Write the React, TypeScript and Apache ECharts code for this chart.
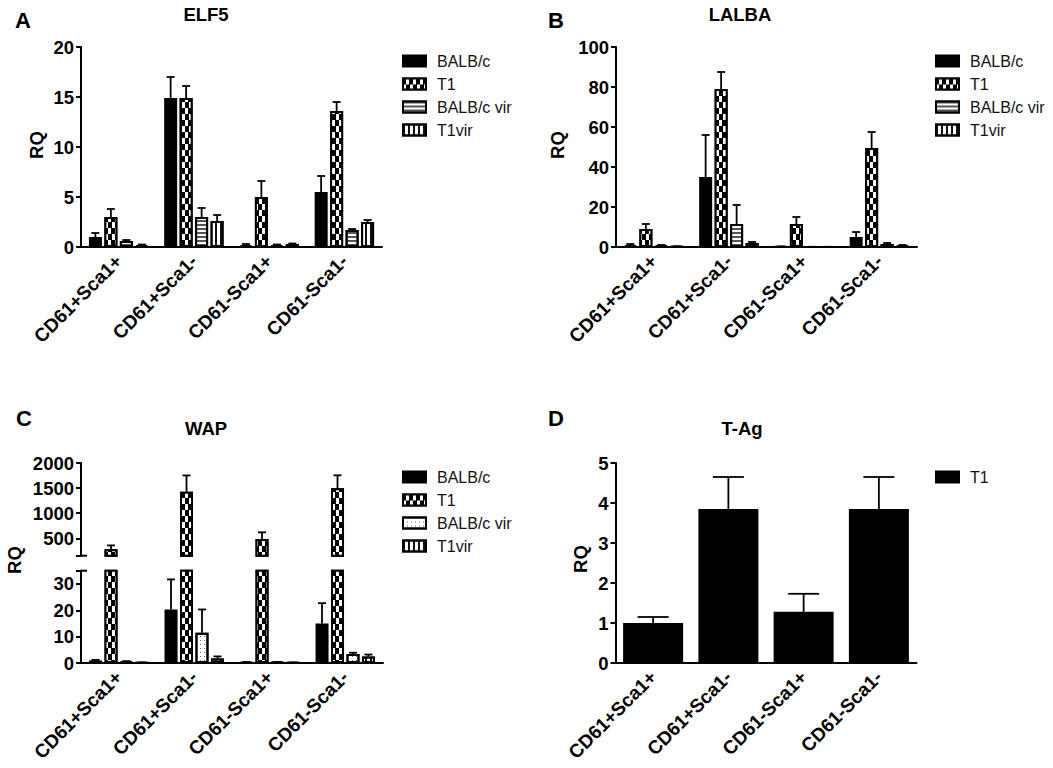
import React, { useEffect, useRef } from 'react';
import * as echarts from 'echarts';

const categories = ['CD61+Sca1+', 'CD61+Sca1-', 'CD61-Sca1+', 'CD61-Sca1-'];
const seriesNames = ['BALB/c', 'T1', 'BALB/c vir', 'T1vir'];

// [mean per category] and [top of error bar per category]
const elf5Values = [
  [1.0, 14.9, 0.2, 5.5],
  [3.0, 14.9, 5.0, 13.6],
  [0.6, 3.0, 0.2, 1.7],
  [0.2, 2.6, 0.3, 2.5],
];
const elf5Highs = [
  [1.4, 17.0, 0.3, 7.1],
  [3.8, 16.1, 6.6, 14.5],
  [0.7, 3.9, 0.25, 1.8],
  [0.25, 3.2, 0.35, 2.7],
];
const lalbaValues = [
  [1, 35, 0.2, 5],
  [9, 79, 11.5, 49.5],
  [0.8, 11.5, 0.1, 1.5],
  [0.2, 2, 0.1, 0.7],
];
const lalbaHighs = [
  [1.5, 56, 0.3, 7.5],
  [11.5, 87.5, 15, 57.5],
  [1, 21, 0.1, 2],
  [0.4, 2.5, 0.1, 1],
];
const wapValues = [
  [1, 20.3, 0.3, 15],
  [282, 1427, 485, 1495],
  [0.5, 11.5, 0.3, 3.4],
  [0.1, 1.7, 0.1, 2.5],
];
const wapHighs = [
  [1.2, 31.7, 0.4, 22.7],
  [360, 1752, 620, 1755],
  [0.7, 20.3, 0.4, 3.9],
  [0.2, 2.5, 0.2, 3.2],
];
const tagValues = [[1.0, 3.85, 1.28, 3.85]];
const tagHighs = [[1.15, 4.65, 1.73, 4.65]];

const font = '"Liberation Sans", Arial, sans-serif';

const solid = { color: '#000' };
const checker = {
  color: '#000',
  decal: { symbol: 'rect', symbolSize: 1, color: '#fff', backgroundColor: '#000', dashArrayX: [[2.5, 3.5], [0, 3, 2.5, 0.5]], dashArrayY: [6, 0], rotation: 0 },
};
const hStripes = {
  color: '#fff',
  decal: { symbol: 'rect', symbolSize: 1, color: '#555', backgroundColor: '#fff', dashArrayX: [1, 0], dashArrayY: [2, 2], rotation: 0 },
};
const vStripes = {
  color: '#fff',
  decal: { symbol: 'rect', symbolSize: 1, color: '#111', backgroundColor: '#fff', dashArrayX: [2, 3], dashArrayY: [1, 0], rotation: 0 },
};
const dots = {
  color: '#fff',
  decal: { symbol: 'rect', symbolSize: 1, color: '#666', backgroundColor: '#fff', dashArrayX: [1, 3], dashArrayY: [1, 3], rotation: 0 },
};

const barSeries = (name: string, data: number[], pattern: any, index: number, barWidth: number) => ({
  type: 'bar',
  name,
  data,
  xAxisIndex: index,
  yAxisIndex: index,
  barWidth,
  barGap: '19%',
  itemStyle: { borderColor: '#000', borderWidth: 2, ...pattern },
  silent: true,
});

// upward-only error bar: stem plus cap, placed over its bar in the group
const errorSeries = (values: number[], highs: number[], slot: number, index: number, pitch: number, capHalf: number) => ({
  type: 'custom',
  xAxisIndex: index,
  yAxisIndex: index,
  silent: true,
  encode: { x: 0, y: [1, 2] },
  data: values.map((v, i) => [i, v, highs[i]]),
  renderItem: (params: any, api: any) => {
    const base = api.coord([api.value(0), api.value(1)]);
    const top = api.coord([api.value(0), api.value(2)]);
    const x = base[0] + slot * pitch;
    const style = { stroke: '#000', lineWidth: 1.8 };
    return {
      type: 'group',
      children: [
        { type: 'line', shape: { x1: x, y1: base[1], x2: x, y2: top[1] }, style },
        { type: 'line', shape: { x1: x - capHalf, y1: top[1], x2: x + capHalf, y2: top[1] }, style },
      ],
    };
  },
  z: 1,
});

const yAxisBase = {
  type: 'value',
  splitLine: { show: false },
  axisLine: { show: true, onZero: false, lineStyle: { color: '#000', width: 2 } },
  axisTick: { show: true, length: 5, lineStyle: { color: '#000', width: 2 } },
  axisLabel: { color: '#000', fontFamily: font, fontWeight: 'bold', fontSize: 18.5, margin: 7, formatter: (v: number) => String(v) },
};

const xAxisBase = {
  type: 'category',
  data: categories,
  axisTick: { show: false },
  axisLine: { show: true, lineStyle: { color: '#000', width: 2 } },
  axisLabel: { color: '#000', fontFamily: font, fontWeight: 'bold', fontSize: 19, rotate: 45, margin: 11, interval: 0 },
};

const legendOf = (names: string[], left: number, top: number) => ({
  data: names.map((name) => ({ name, icon: 'rect' })),
  orient: 'vertical',
  left,
  top,
  padding: 0,
  itemWidth: 23,
  itemHeight: 11,
  itemGap: 7,
  selectedMode: false,
  textStyle: { color: '#111', fontFamily: font, fontSize: 16, padding: [0, 0, 0, 6] },
});

const titleOf = (letter: string, name: string, letterX: number, letterY: number, nameX: number, nameY: number) => [
  { text: letter, left: letterX, top: letterY, padding: 0, textStyle: { color: '#000', fontFamily: font, fontWeight: 'bold', fontSize: 22 } },
  { text: name, left: nameX, top: nameY, padding: 0, textAlign: 'center', textStyle: { color: '#000', fontFamily: font, fontWeight: 'bold', fontSize: 18.5 } },
];

const rqLabel = (x: number, y: number) => ({
  type: 'text',
  x,
  y,
  rotation: Math.PI / 2,
  style: { text: 'RQ', fill: '#000', font: `bold 18.5px ${font}`, textAlign: 'center', textVerticalAlign: 'middle' },
});

const breakMark = (y: number) => ({
  type: 'line',
  shape: { x1: 81, y1: y, x2: 87, y2: y },
  style: { stroke: '#000', lineWidth: 2 },
});

const simplePanel = (letter: string, name: string, values: number[][], highs: number[][], patterns: any[], max: number, interval: number, left: number, opts: any) => {
  const n = values.length;
  const barWidth = n === 1 ? 60 : 13;
  const pitch = 15.5;
  return {
    animation: false,
    title: titleOf(letter, name, opts.letterX, opts.letterY, opts.nameX, opts.nameY),
    legend: legendOf(n === 1 ? ['T1'] : seriesNames, opts.legendX, opts.legendY),
    grid: { left, top: opts.top, width: 301, height: 200, outerBoundsMode: 'none' },
    xAxis: { ...xAxisBase },
    yAxis: { ...yAxisBase, min: 0, max, interval },
    graphic: [rqLabel(opts.rqX, opts.rqY)],
    series: [
      ...values.map((v, i) => barSeries(n === 1 ? 'T1' : seriesNames[i], v, patterns[i], 0, barWidth)),
      ...values.map((v, i) => errorSeries(v, highs[i], i - (n - 1) / 2, 0, pitch, n === 1 ? 15.5 : 4)),
    ],
  };
};

const wapPanel = () => {
  const patterns = [solid, checker, dots, vStripes];
  const pitch = 15.5;
  const left = 81;
  return {
    animation: false,
    title: titleOf('C', 'WAP', 16, 23, 206, 35),
    legend: legendOf(seriesNames, 402, 85),
    grid: [
      { left, top: 79, width: 302, height: 92.7, outerBoundsMode: 'none' },
      { left, top: 186.7, width: 302, height: 92.3, outerBoundsMode: 'none' },
    ],
    xAxis: [
      { ...xAxisBase, gridIndex: 0, axisLine: { show: false }, axisLabel: { show: false } },
      { ...xAxisBase, gridIndex: 1 },
    ],
    yAxis: [
      {
        ...yAxisBase,
        gridIndex: 0,
        min: 155,
        max: 2000,
        axisTick: { ...yAxisBase.axisTick, customValues: [155, 500, 1000, 1500, 2000] },
        axisLabel: { ...yAxisBase.axisLabel, customValues: [500, 1000, 1500, 2000] },
      },
      {
        ...yAxisBase,
        gridIndex: 1,
        min: 0,
        max: 35,
        axisTick: { ...yAxisBase.axisTick, customValues: [0, 10, 20, 30, 35] },
        axisLabel: { ...yAxisBase.axisLabel, customValues: [0, 10, 20, 30] },
      },
    ],
    graphic: [rqLabel(14, 176), breakMark(171.7), breakMark(186.7)],
    series: [
      ...wapValues.map((v, i) => barSeries(seriesNames[i], v, patterns[i], 0, 13)),
      ...wapValues.map((v, i) => barSeries(seriesNames[i], v, patterns[i], 1, 13)),
      errorSeries(wapValues[1], wapHighs[1], -0.5, 0, pitch, 4),
      ...[0, 2, 3].map((i) => errorSeries(wapValues[i], wapHighs[i], i - 1.5, 1, pitch, 4)),
    ],
  };
};

const panels = [
  {
    box: { left: 0, top: 0, width: 527, height: 384 },
    option: simplePanel('A', 'ELF5', elf5Values, elf5Highs, [solid, checker, hStripes, vStripes], 20, 5, 81, {
      letterX: 15, letterY: 9, nameX: 206, nameY: 5, legendX: 402, legendY: 53, top: 47, rqX: 36, rqY: 145,
    }),
  },
  {
    box: { left: 527, top: 0, width: 526, height: 384 },
    option: simplePanel('B', 'LALBA', lalbaValues, lalbaHighs, [solid, checker, hStripes, vStripes], 100, 20, 89, {
      letterX: 21, letterY: 9, nameX: 213, nameY: 5, legendX: 408, legendY: 53, top: 47, rqX: 30, rqY: 145,
    }),
  },
  { box: { left: 0, top: 384, width: 527, height: 384 }, option: wapPanel() },
  {
    box: { left: 527, top: 384, width: 526, height: 384 },
    option: simplePanel('D', 'T-Ag', tagValues, tagHighs, [solid], 5, 1, 88.5, {
      letterX: 21, letterY: 23, nameX: 215, nameY: 35, legendX: 408, legendY: 85, top: 79, rqX: 53, rqY: 175,
    }),
  },
];

const Panel: React.FC<{ box: any; option: any }> = ({ box, option }) => {
  const ref = useRef<HTMLDivElement>(null);

  useEffect(() => {
    const chart = echarts.init(ref.current!, undefined, { renderer: 'svg' });
    chart.setOption(option);
    return () => {
      chart.dispose();
    };
  }, []);

  return <div ref={ref} style={{ position: 'absolute', ...box }} />;
};

const App: React.FC = () => (
  <div style={{ position: 'absolute', left: 0, top: 0, width: 1053, height: 768, background: '#fff', overflow: 'hidden' }}>
    {panels.map((p, i) => (
      <Panel key={i} box={p.box} option={p.option} />
    ))}
  </div>
);

export default App;
